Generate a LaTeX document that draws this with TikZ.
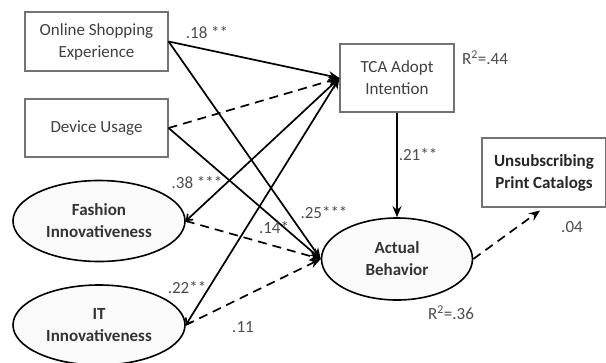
\documentclass[tikz,border=0pt]{standalone}
\usepackage{fontspec}
\setmainfont{Carlito}
\usetikzlibrary{arrows.meta,shapes.geometric}
\begin{document}
\begin{tikzpicture}[x=1pt,y=-1pt,
 rbox/.style={rectangle,draw=black!55,line width=1.2pt,fill=white,inner sep=0pt,align=center,text=black!75,font=\fontsize{17}{22}\selectfont},
 ell/.style={ellipse,draw,line width=1.6pt,fill=black!2,inner sep=0pt,align=center,font=\bfseries\fontsize{17}{22}\selectfont,text=black!80},
 lbl/.style={text=black!70,font=\fontsize{17}{20}\selectfont,inner sep=0pt},
 arr/.style={line width=1.7pt,-{Stealth[length=11pt,width=9pt]}},
 dsh/.style={arr,dash pattern=on 9pt off 6pt},
 both/.style={line width=1.7pt,{Straight Barb[length=5pt,width=8pt]}-{Stealth[length=11pt,width=9pt]}},
]
\useasboundingbox (0,0) rectangle (606,362);
\node[rbox,minimum width=143pt,minimum height=59pt] (on) at (96.5,41.5) {Online Shopping\\Experience};
\node[rbox,minimum width=143pt,minimum height=58pt] (dev) at (96.5,128) {Device Usage};
\node[rbox,minimum width=114pt,minimum height=68pt] (tca) at (397,78) {TCA Adopt\\Intention};
\node[rbox,minimum width=124pt,minimum height=69pt,text=black!85,font=\bfseries\fontsize{17}{22}\selectfont] (uns) at (544,172.5) {Unsubscribing\\Print Catalogs};
\node[ell,minimum width=172pt,minimum height=81pt] (fash) at (99,221) {Fashion\\Innovativeness};
\node[ell,minimum width=172pt,minimum height=80pt] (it) at (99,325) {IT\\Innovativeness};
\node[ell,minimum width=151pt,minimum height=82pt] (act) at (397,259) {Actual\\Behavior};

\draw[arr] (on.east) -- (tca.west);
\draw[arr] (on.east) -- (act.west);
\draw[dsh] (dev.east) -- (tca.west);
\draw[arr] (dev.east) -- (act.west);
\draw[both] (fash.east) -- (tca.west);
\draw[dsh] (fash.east) -- (act.west);
\draw[both] (it.east) -- (tca.west);
\draw[dsh] (it.east) -- (act.west);
\draw[arr] (tca.south) -- (act.north);
\draw[dsh,shorten >=5pt] (act.east) -- (uns.south);

\node[lbl] (l18) at (207,33) {.18 **};
\node[lbl] (l38) at (197,183) {.38 ***};
\node[lbl] (l14) at (274,228) {.14*};
\node[lbl] (l25) at (324,213) {.25***};
\node[lbl] (l22) at (187,288) {.22**};
\node[lbl] (l11) at (243,327) {.11};
\node[lbl] (l21) at (418,155) {.21**};
\node[lbl] (l04) at (572,227) {.04};
\node[lbl] (r44) at (485,58) {R\textsuperscript{2}=.44};
\node[lbl] (r36) at (451,313) {R\textsuperscript{2}=.36};
\end{tikzpicture}
\end{document}
